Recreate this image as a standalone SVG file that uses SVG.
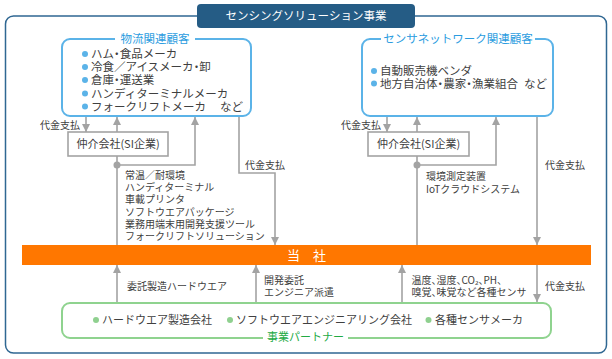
<svg xmlns="http://www.w3.org/2000/svg" width="612" height="359" viewBox="0 0 612 359">
<style>
text{font-family:"Noto Sans CJK JP","Noto Sans",sans-serif;fill:#404040}
.t10{font-size:10px}
.t11{font-size:11px}
.t115{font-size:11.5px}
.h{font-feature-settings:"halt"}
.ln{fill:none;stroke:#a3a3a3;stroke-width:1.6}
.arr{marker-end:url(#ah)}
.agent{fill:#fff;stroke:#a3a3a3;stroke-width:1.6}
.bb{fill:#5bb3e8}
.gb{fill:#8fd08f}
.blue{fill:#2b9ce0;font-size:11.5px}
</style>
<defs>
<marker id="ah" viewBox="0 0 10 10" refX="10" refY="5" markerWidth="8" markerHeight="8" markerUnits="userSpaceOnUse" orient="auto">
<path d="M0,0 L10,5 L0,10 z" fill="#a3a3a3"/>
</marker>
</defs>
<rect width="612" height="359" fill="#fff"/>

<g id="frame">
<rect x="5.5" y="16" width="601" height="337" rx="8" fill="none" stroke="#2f6792" stroke-width="1.5"/>
</g>

<g id="header">
<rect x="197" y="4" width="218" height="24" rx="4" fill="#255c85"/>
<text x="306" y="20" text-anchor="middle" style="fill:#fff;font-size:11.5px">センシングソリューション事業</text>
</g>

<g id="logistics-customers">
<rect x="62" y="39" width="189" height="77" rx="8" fill="none" stroke="#5bb3e8" stroke-width="2"/>
<rect x="115" y="35" width="80" height="8" fill="#fff"/>
<text x="155" y="42.5" text-anchor="middle" class="blue">物流関連顧客</text>
<circle cx="85" cy="54" r="3" class="bb"/>
<circle cx="85" cy="67" r="3" class="bb"/>
<circle cx="85" cy="80" r="3" class="bb"/>
<circle cx="85" cy="93.5" r="3" class="bb"/>
<circle cx="85" cy="106.5" r="3" class="bb"/>
<text x="91" y="58" class="t115 h">ハム・食品メーカ</text>
<text x="91" y="71.2" class="t115">冷食／アイスメーカ<tspan class="h">・卸</tspan></text>
<text x="91" y="84.4" class="t115 h">倉庫・運送業</text>
<text x="91" y="97.6" class="t115">ハンディターミナルメーカ</text>
<text x="91" y="110.8" class="t115">フォークリフトメーカ</text>
<text x="220" y="110.8" class="t115">など</text>
</g>

<g id="sensor-customers">
<rect x="362" y="39" width="191" height="77" rx="8" fill="none" stroke="#5bb3e8" stroke-width="2"/>
<rect x="381" y="35" width="154" height="8" fill="#fff"/>
<text x="458" y="42.5" text-anchor="middle" class="blue">センサネットワーク関連顧客</text>
<circle cx="374" cy="71" r="3" class="bb"/>
<circle cx="374" cy="83.5" r="3" class="bb"/>
<text x="380" y="75" class="t115">自動販売機ベンダ</text>
<text x="380" y="87.6" class="t115 h">地方自治体・農家・漁業組合</text>
<text x="524" y="87.6" class="t115">など</text>
</g>

<g id="agent-left">
<rect x="68" y="132" width="100" height="24" class="agent"/>
<text x="118" y="148" text-anchor="middle" class="t11">仲介会社(SI企業)</text>
</g>

<g id="agent-right">
<rect x="368" y="132" width="101" height="24" class="agent"/>
<text x="418.5" y="148" text-anchor="middle" class="t11">仲介会社(SI企業)</text>
</g>

<g id="company">
<rect x="22" y="245" width="569" height="20" fill="#ff7700"/>
<text x="306.5" y="259.5" text-anchor="middle" style="fill:#fff;font-size:13px">当　社</text>
</g>

<g id="partners">
<rect x="62" y="303" width="489" height="35" rx="8" fill="none" stroke="#8fd38f" stroke-width="2"/>
<rect x="263" y="334" width="85" height="8" fill="#fff"/>
<text x="305.5" y="341" text-anchor="middle" style="fill:#22aa44;font-size:11px">事業パートナー</text>
<circle cx="96" cy="320" r="3" class="gb"/>
<circle cx="230" cy="320" r="3" class="gb"/>
<circle cx="428.5" cy="320" r="3" class="gb"/>
<text x="102" y="324" class="t11">ハードウエア製造会社</text>
<text x="236" y="324" class="t11">ソフトウエアエンジニアリング会社</text>
<text x="435" y="324" class="t11">各種センサメーカ</text>
</g>

<g id="connectors">
<line x1="86" y1="117" x2="86" y2="132" class="ln arr"/>
<line x1="117" y1="132" x2="117" y2="117" class="ln arr"/>
<line x1="117" y1="156" x2="117" y2="245" class="ln"/>
<path d="M117,165 H195 V117" class="ln arr"/>
<circle cx="117" cy="165" r="3.5" fill="#a3a3a3"/>
<path d="M239,117 V173 H275 V245" class="ln arr"/>

<line x1="387" y1="117" x2="387" y2="132" class="ln arr"/>
<line x1="417" y1="132" x2="417" y2="117" class="ln arr"/>
<line x1="417" y1="156" x2="417" y2="245" class="ln"/>
<path d="M417,165 H496 V117" class="ln arr"/>
<circle cx="417" cy="165" r="3.5" fill="#a3a3a3"/>
<line x1="537" y1="117" x2="537" y2="245" class="ln arr"/>

<line x1="117" y1="302" x2="117" y2="265" class="ln arr"/>
<line x1="256" y1="302" x2="256" y2="265" class="ln arr"/>
<line x1="402" y1="302" x2="402" y2="265" class="ln arr"/>
<line x1="537" y1="265" x2="537" y2="302" class="ln arr"/>
</g>

<g id="connector-labels">
<text x="80" y="128.6" text-anchor="end" class="t10">代金支払</text>
<text x="381" y="128.6" text-anchor="end" class="t10">代金支払</text>
<text x="245" y="168.6" class="t10">代金支払</text>
<text x="545" y="168.6" class="t10">代金支払</text>
<text x="545" y="290.3" class="t10">代金支払</text>
<text x="125" y="179" class="t10">常温／耐環境</text>
<text x="125" y="191.2" class="t10">ハンディターミナル</text>
<text x="125" y="203.4" class="t10">車載プリンタ</text>
<text x="125" y="215.6" class="t10">ソフトウエアパッケージ</text>
<text x="125" y="227.8" class="t10">業務用端末用開発支援ツール</text>
<text x="125" y="240" class="t10">フォークリフトソリューション</text>
<text x="426" y="180.3" class="t10">環境測定装置</text>
<text x="426" y="192.7" class="t10">IoTクラウドシステム</text>
<text x="127" y="289.6" class="t10">委託製造ハードウエア</text>
<text x="264" y="284.3" class="t10">開発委託</text>
<text x="264" y="295.6" class="t10">エンジニア派遣</text>
<text x="411.5" y="283.8" class="t10 h">温度、湿度、CO₂、PH、</text>
<text x="411.5" y="295.6" class="t10 h">嗅覚、味覚など各種センサ</text>
</g>
</svg>
